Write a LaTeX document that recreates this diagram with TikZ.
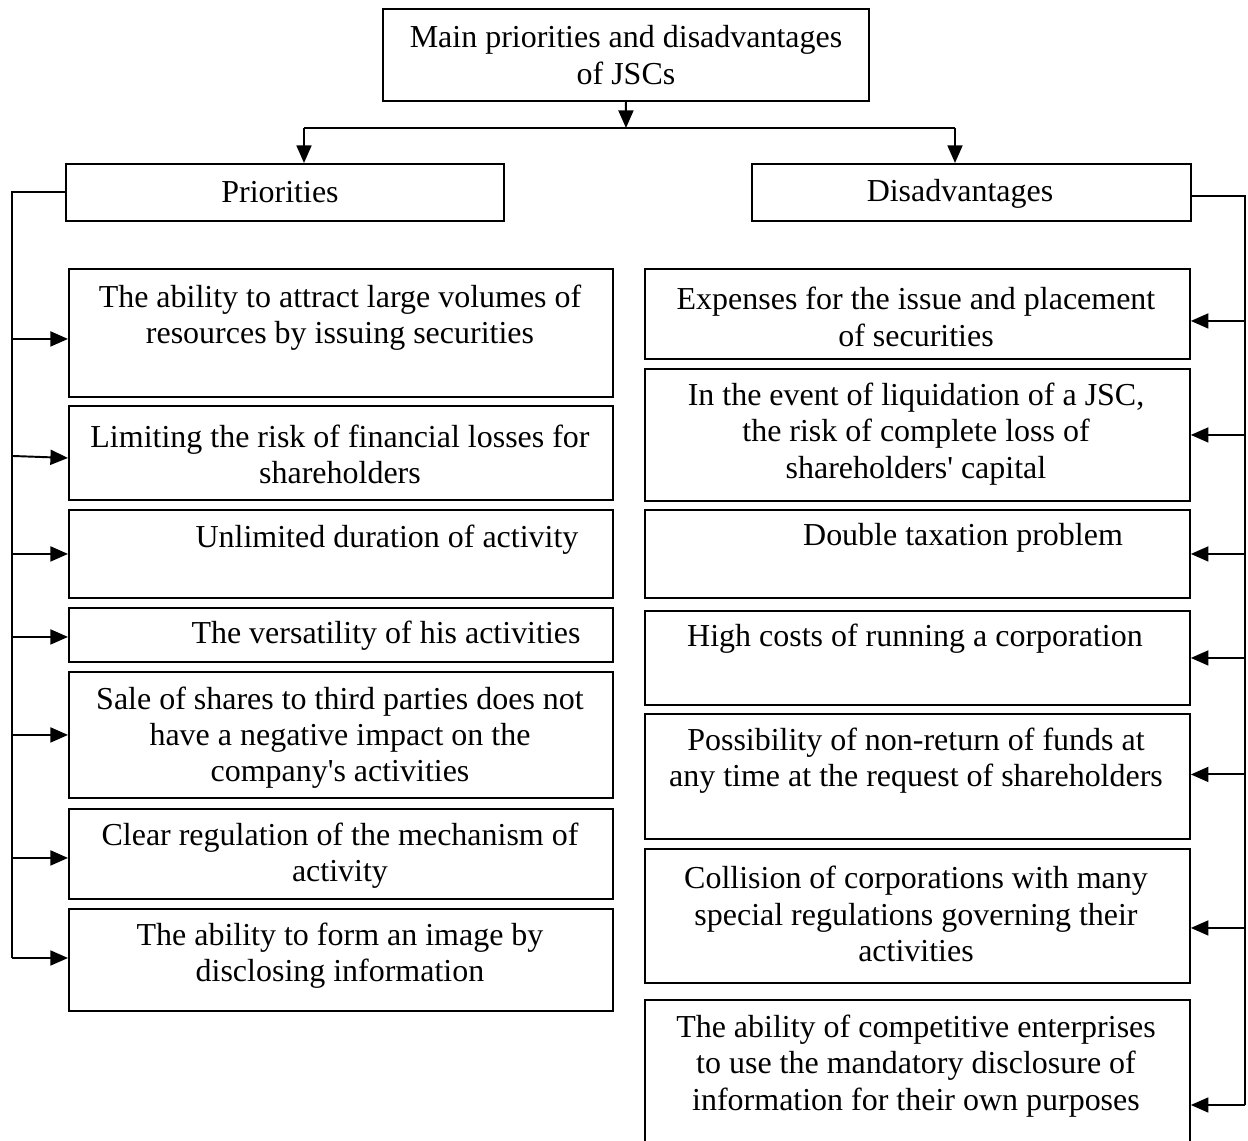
\documentclass[tikz,border=0pt]{standalone}
\usepackage{fontspec}
\setmainfont{Liberation Serif}
\usetikzlibrary{arrows.meta,calc}
\begin{document}
\begin{tikzpicture}[x=0.02cm,y=-0.02cm,
  box/.style={draw,line width=1.1pt,inner sep=0pt,anchor=north west},
  lbox/.style={box,minimum width=10.88cm},
  rbox/.style={box,minimum width=10.9cm},
  txt/.style={align=center,inner sep=0pt,font=\fontsize{18.2}{20.6}\selectfont},
  link/.style={line width=1.1pt},
  arr/.style={line width=1.1pt,-{Triangle[length=10pt,width=8.5pt]}}]
\useasboundingbox (0,0) rectangle (1248,1141);

% header and the two branches
\node[box,minimum width=9.72cm,minimum height=1.84cm] (top) at (382,8) {};
\node[txt] (topt) at (626,55) {Main priorities and disadvantages\\of JSCs};
\node[box,minimum width=8.76cm,minimum height=1.14cm] (pri) at (65,163) {};
\node[txt] (prit) at (280,192) {Priorities};
\node[box,minimum width=8.78cm,minimum height=1.14cm] (dis) at (751,163) {};
\node[txt] (dist) at (960,194) {Disadvantages};

% priorities column
\node[lbox,minimum height=2.56cm] (l1) at (68,268) {};
\node[txt] at (340,318) {The ability to attract large volumes of\\resources by issuing securities};
\node[lbox,minimum height=1.88cm] (l2) at (68,405) {};
\node[txt] at (340,454) {Limiting the risk of financial losses for\\shareholders};
\node[lbox,minimum height=1.76cm] (l3) at (68,509) {};
\node[txt] at (387,540) {Unlimited duration of activity};
\node[lbox,minimum height=1.08cm] (l4) at (68,607) {};
\node[txt] at (386,636) {The versatility of his activities};
\node[lbox,minimum height=2.52cm] (l5) at (68,671) {};
\node[txt] at (340,738) {Sale of shares to third parties does not\\have a negative impact on the\\company\textquotesingle s activities};
\node[lbox,minimum height=1.80cm] (l6) at (68,808) {};
\node[txt] at (340,856) {Clear regulation of the mechanism of\\activity};
\node[lbox,minimum height=2.04cm] (l7) at (68,908) {};
\node[txt] at (340,956) {The ability to form an image by\\disclosing information};

% disadvantages column
\node[rbox,minimum height=1.80cm] (r1) at (644,268) {};
\node[txt] at (916,317) {Expenses for the issue and placement\\of securities};
\node[rbox,minimum height=2.64cm] (r2) at (644,368) {};
\node[txt] at (916,434) {In the event of liquidation of a JSC,\\the risk of complete loss of\\shareholders\textquotesingle\ capital};
\node[rbox,minimum height=1.76cm] (r3) at (644,509) {};
\node[txt] at (963,538) {Double taxation problem};
\node[rbox,minimum height=1.88cm] (r4) at (644,610) {};
\node[txt] at (915,639) {High costs of running a corporation};
\node[rbox,minimum height=2.50cm] (r5) at (644,713) {};
\node[txt] at (916,761) {Possibility of non-return of funds at\\any time at the request of shareholders};
\node[rbox,minimum height=2.68cm] (r6) at (644,848) {};
\node[txt] at (916,914) {Collision of corporations with many\\special regulations governing their\\activities};
\node[rbox,minimum height=3.02cm] (r7) at (644,999) {};
\node[txt] at (916,1066) {The ability of competitive enterprises\\to use the mandatory disclosure of\\information for their own purposes};

% split from the header
\coordinate (split) at (626,128);
\coordinate (jl) at (304,128);
\coordinate (jr) at (955,128);
\draw[arr] (top.south) -- (split);
\draw[link] (jl) -- (jr);
\draw[arr] (jl) -- (jl |- pri.north);
\draw[arr] (jr) -- (jr |- dis.north);

% left bus
\coordinate (bl) at (12,192);
\coordinate (blend) at (12,958);
\draw[link] (pri.west |- bl) -- (bl) -- (blend);
\draw[arr] ($(bl |- l1.west)+(0,6)$) -- ($(l1.west)+(0,6)$);
\draw[arr] ($(bl |- l2.west)+(0,3)$) -- ($(l2.west)+(0,5)$);
\draw[arr] (bl |- l3.west) -- (l3.west);
\draw[arr] ($(bl |- l4.west)+(0,2)$) -- ($(l4.west)+(0,2)$);
\draw[arr] (bl |- l5.west) -- (l5.west);
\draw[arr] ($(bl |- l6.west)+(0,4)$) -- ($(l6.west)+(0,4)$);
\draw[arr] (blend) -- (blend -| l7.west);

% right bus
\coordinate (br) at (1245,196);
\coordinate (brend) at (1245,1105);
\draw[link] (dis.east |- br) -- (br) -- (brend);
\draw[arr] ($(br |- r1.east)+(0,7)$) -- ($(r1.east)+(0,7)$);
\draw[arr] (br |- r2.east) -- (r2.east);
\draw[arr] (br |- r3.east) -- (r3.east);
\draw[arr] (br |- r4.east) -- (r4.east);
\draw[arr] ($(br |- r5.east)+(0,-2)$) -- ($(r5.east)+(0,-2)$);
\draw[arr] ($(br |- r6.east)+(0,12)$) -- ($(r6.east)+(0,12)$);
\draw[arr] (brend) -- (brend -| r7.east);
\end{tikzpicture}
\end{document}
